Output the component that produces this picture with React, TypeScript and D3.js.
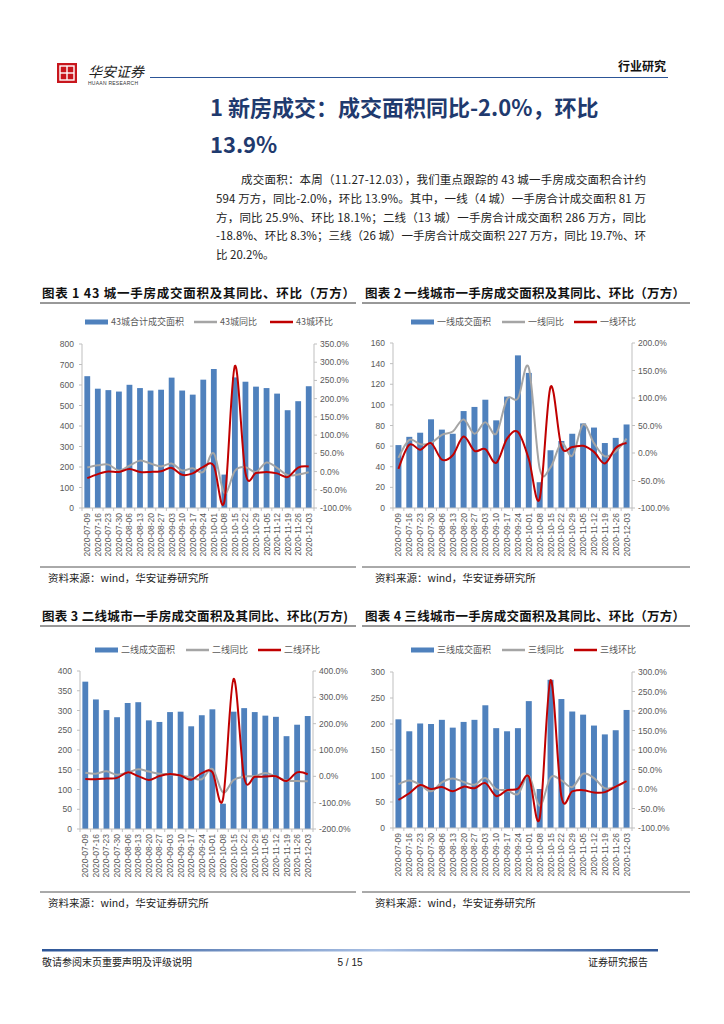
import * as d3 from 'd3';

// x categories (weekly)
const dates = [
  '2020-07-09', '2020-07-16', '2020-07-23', '2020-07-30', '2020-08-06', '2020-08-13',
  '2020-08-20', '2020-08-27', '2020-09-03', '2020-09-10', '2020-09-17', '2020-09-24',
  '2020-10-01', '2020-10-08', '2020-10-15', '2020-10-22', '2020-10-29', '2020-11-05',
  '2020-11-12', '2020-11-19', '2020-11-26', '2020-12-03',
];

// 43城
const area43 = [643, 582, 575, 568, 601, 585, 573, 577, 636, 573, 553, 626, 678, 163, 637, 616, 592, 585, 558, 477, 521, 594];
const yoy43 = [11, 17, 19, 3, 16, 30, 22, 14, 22, 3, 9, -1, 50, -59, 2, 12, -1, 25, 10, -10, -8, -2];
const mom43 = [-18, -7, 0, -1, 7, -1, -1, 1, 10, -9, -5, 13, 16, -82, 290, -4, -4, -1, -5, -15, 11, 14];
const left43 = [0, 100, 200, 300, 400, 500, 600, 700, 800];
const right43 = [-100, -50, 0, 50, 100, 150, 200, 250, 300, 350];

// 一线
const area1 = [61, 69, 73, 86, 76, 72, 94, 98, 105, 85, 108, 148, 131, 25, 56, 65, 72, 82, 78, 63, 68, 81];
const yoy1 = [-9, 24, 16, 18, 33, 39, 61, 35, 56, 35, 98, 99, 155, -28, -26, 18, -5, 52, 18, -6, 3, 26];
const mom1 = [-29, 15, 6, 18, -12, -4, 30, 4, 7, -18, 26, 38, -11, -83, 120, 12, 11, 13, 2, -19, 9, 18];
const left1 = [0, 20, 40, 60, 80, 100, 120, 140, 160];
const right1 = [-100, -50, 0, 50, 100, 150, 200];

// 二线
const area2 = [373, 328, 301, 283, 319, 321, 275, 271, 296, 297, 260, 288, 303, 64, 297, 306, 296, 287, 284, 235, 264, 286];
const yoy2 = [14, 10, 19, 6, 14, 27, 18, 10, 8, 3, -4, -11, 28, -61, -14, -1, 1, 13, -1, -16, -18, -19];
const mom2 = [-10, -11, -8, -6, 15, 1, -14, 1, 9, 3, -13, 12, 16, -87, 370, -5, -2, -1, 0, -18, 15, 8];
const left2 = [0, 50, 100, 150, 200, 250, 300, 350, 400];
const right2 = [-200, -100, 0, 100, 200, 300, 400];

// 三线
const area3 = [209, 186, 201, 200, 208, 193, 204, 208, 236, 192, 186, 192, 244, 75, 285, 248, 224, 218, 197, 180, 188, 227];
const yoy3 = [12, 22, 11, -6, 17, 27, 18, 11, 28, 0, -3, -13, 35, -43, 29, 22, 5, 39, 28, 2, 6, 20];
const mom3 = [-28, -11, 10, 0, 5, -6, 6, 2, 15, -18, -3, 1, 32, -75, 279, -19, -6, -3, -9, -8, 6, 20];
const left3 = [0, 50, 100, 150, 200, 250, 300];
const right3 = [-100, -50, 0, 50, 100, 150, 200, 250, 300];

const bodyLines = [
  '成交面积：本周（11.27-12.03），我们重点跟踪的 43 城一手房成交面积合计约',
  '594 万方，同比-2.0%，环比 13.9%。其中，一线（4 城）一手房合计成交面积 81 万',
  '方，同比 25.9%、环比 18.1%；二线（13 城）一手房合计成交面积 286 万方，同比',
  '-18.8%、环比 8.3%；三线（26 城）一手房合计成交面积 227 万方，同比 19.7%、环',
  '比 20.2%。',
];

const NUM = 'Arial, "Liberation Sans", sans-serif';
const CJK = '"Noto Sans CJK SC", sans-serif';
const BLUE = '#4f81bd';
const GREY = '#a5a5a5';
const RED = '#c00000';
const AXIS = '#bfbfbf';
const LABEL = '#595959';

interface PanelProps {
  title: string;
  titleX: number;
  titleY: number;
  titleW: number;
  ruleX0: number;
  ruleX1: number;
  left: number;
  right: number;
  top: number;
  bottom: number;
  bars: number[];
  yoy: number[];
  mom: number[];
  leftTicks: number[];
  rightTicks: number[];
  names: string[];
  legendY: number;
  legendX: number[];
  footY: number;
  sourceX: number;
}

function Panel(p: PanelProps) {
  const x = d3.scaleBand<string>().domain(dates).range([p.left, p.right]).paddingInner(0.45).paddingOuter(0.225);
  const step = x.step();
  const yL = d3.scaleLinear().domain(d3.extent(p.leftTicks) as [number, number]).range([p.bottom, p.top]);
  const yR = d3.scaleLinear().domain(d3.extent(p.rightTicks) as [number, number]).range([p.bottom, p.top]);
  const cx = (i: number) => (x(dates[i]) ?? 0) + x.bandwidth() / 2;
  const line = d3
    .line<number>()
    .x((_, i) => cx(i))
    .y((d) => yR(d))
    .curve(d3.curveCardinal.tension(0));

  return (
    <g>
      <text x={p.titleX} y={p.titleY} fontFamily={CJK} fontWeight={700} fontSize={12.5} fill="#111"
        textLength={p.titleW} lengthAdjust="spacing">{p.title}</text>
      <line x1={p.ruleX0} x2={p.ruleX1} y1={p.titleY + 5} y2={p.titleY + 5} stroke="#333" strokeWidth={1} />

      {/* legend */}
      <rect x={p.legendX[0]} y={p.legendY - 2.5} width={23} height={5} fill={BLUE} />
      <text x={p.legendX[0] + 26} y={p.legendY + 3} fontFamily={CJK} fontSize={9} fill={LABEL}>{p.names[0]}</text>
      <line x1={p.legendX[1]} x2={p.legendX[1] + 23} y1={p.legendY} y2={p.legendY} stroke={GREY} strokeWidth={2.5} />
      <text x={p.legendX[1] + 26} y={p.legendY + 3} fontFamily={CJK} fontSize={9} fill={LABEL}>{p.names[1]}</text>
      <line x1={p.legendX[2]} x2={p.legendX[2] + 23} y1={p.legendY} y2={p.legendY} stroke={RED} strokeWidth={2.5} />
      <text x={p.legendX[2] + 26} y={p.legendY + 3} fontFamily={CJK} fontSize={9} fill={LABEL}>{p.names[2]}</text>

      {/* bars */}
      {p.bars.map((v, i) => (
        <rect key={i} x={x(dates[i])} y={yL(v)} width={x.bandwidth()} height={p.bottom - yL(v)} fill={BLUE} />
      ))}

      {/* axes */}
      <line x1={p.left} x2={p.left} y1={p.top} y2={p.bottom} stroke={AXIS} />
      <line x1={p.right} x2={p.right} y1={p.top} y2={p.bottom} stroke={AXIS} />
      <line x1={p.left} x2={p.right} y1={p.bottom} y2={p.bottom} stroke={AXIS} />
      {p.leftTicks.map((t) => (
        <g key={'l' + t}>
          <line x1={p.left - 3} x2={p.left} y1={yL(t)} y2={yL(t)} stroke={AXIS} />
          <text x={p.left - 8} y={yL(t) + 3} textAnchor="end" fontFamily={NUM} fontSize={8.5} fill={LABEL}>{t}</text>
        </g>
      ))}
      {p.rightTicks.map((t) => (
        <g key={'r' + t}>
          <line x1={p.right} x2={p.right + 3} y1={yR(t)} y2={yR(t)} stroke={AXIS} />
          <text x={p.right + 6} y={yR(t) + 3} fontFamily={NUM} fontSize={8.5} fill={LABEL}>{t.toFixed(1) + '%'}</text>
        </g>
      ))}
      {dates.map((d, i) => (
        <g key={d}>
          <line x1={p.left + step * i} x2={p.left + step * i} y1={p.bottom} y2={p.bottom + 3} stroke={AXIS} />
          <text transform={`translate(${cx(i) + 3},${p.bottom + 5}) rotate(-90)`} textAnchor="end"
            fontFamily={NUM} fontSize={8.5} fill={LABEL}>{d}</text>
        </g>
      ))}
      <line x1={p.right} x2={p.right} y1={p.bottom} y2={p.bottom + 3} stroke={AXIS} />

      {/* lines */}
      <path d={line(p.yoy) ?? ''} fill="none" stroke={GREY} strokeWidth={2} />
      <path d={line(p.mom) ?? ''} fill="none" stroke={RED} strokeWidth={2} />

      <line x1={p.ruleX0} x2={p.ruleX1} y1={p.footY} y2={p.footY} stroke="#555" strokeWidth={1} />
      <text x={p.sourceX} y={p.footY + 15} fontFamily={CJK} fontSize={10.5} fill="#222">资料来源：wind，华安证券研究所</text>
    </g>
  );
}

export default function App() {
  return (
    <div style={{ position: 'absolute', left: 0, top: 0 }}>
      <svg width={724} height={1024} style={{ display: 'block', background: '#fff' }}>
        <defs>
          <linearGradient id="foot" x1="0" x2="1" y1="0" y2="0">
            <stop offset="0%" stopColor="#2c5597" />
            <stop offset="55%" stopColor="#a9c0e4" />
            <stop offset="100%" stopColor="#2c5597" />
          </linearGradient>
        </defs>

        {/* header */}
        <rect x={57} y={63} width={20} height={20} fill="#c8161d" />
        <rect x={60} y={66} width={14} height={14} fill="none" stroke="#fff" strokeWidth={1.4} />
        <line x1={67} x2={67} y1={66} y2={80} stroke="#fff" strokeWidth={1.4} />
        <line x1={60} x2={74} y1={73} y2={73} stroke="#fff" strokeWidth={1.4} />
        <text x={88} y={77} fontFamily={CJK} fontSize={14} fontStyle="italic" fill="#222">华安证券</text>
        <text x={88} y={85} fontFamily={NUM} fontSize={5} fill="#333" textLength={50}>HUAAN RESEARCH</text>
        <line x1={150} x2={668} y1={77.5} y2={77.5} stroke="#2c5597" strokeWidth={1} />
        <text x={666} y={71} textAnchor="end" fontFamily={CJK} fontWeight={700} fontSize={12} fill="#111">行业研究</text>

        {/* section title */}
        <text x={210} y={116} fontFamily={CJK} fontWeight={700} fontSize={22} fill="#1f3a6e">1 新房成交：成交面积同比-2.0%，环比</text>
        <text x={210} y={153} fontFamily={CJK} fontWeight={700} fontSize={22} fill="#1f3a6e">13.9%</text>

        {bodyLines.map((s, i) => (
          <text key={i} x={i === 0 ? 241 : 216} y={184 + i * 18.8} fontFamily={CJK} fontSize={11.5} fill="#222"
            textLength={i < 4 ? (i === 0 ? 405 : 430) : undefined} lengthAdjust="spacing">{s}</text>
        ))}

        <Panel title="图表 1 43 城一手房成交面积及其同比、环比（万方）" titleX={42} titleY={298} titleW={313}
          ruleX0={40} ruleX1={356} left={82} right={314} top={344} bottom={508}
          bars={area43} yoy={yoy43} mom={mom43} leftTicks={left43} rightTicks={right43}
          names={['43城合计成交面积', '43城同比', '43城环比']} legendY={322} legendX={[85, 194, 270]}
          footY={567} sourceX={48} />
        <Panel title="图表 2 一线城市一手房成交面积及其同比、环比（万方）" titleX={365} titleY={298} titleW={320}
          ruleX0={362} ruleX1={690} left={393} right={632} top={343} bottom={508}
          bars={area1} yoy={yoy1} mom={mom1} leftTicks={left1} rightTicks={right1}
          names={['一线成交面积', '一线同比', '一线环比']} legendY={322} legendX={[411, 502, 574]}
          footY={567} sourceX={375} />
        <Panel title="图表 3 二线城市一手房成交面积及其同比、环比(万方)" titleX={42} titleY={621} titleW={306}
          ruleX0={40} ruleX1={356} left={80} right={313} top={671} bottom={829}
          bars={area2} yoy={yoy2} mom={mom2} leftTicks={left2} rightTicks={right2}
          names={['二线成交面积', '二线同比', '二线环比']} legendY={650} legendX={[95, 186, 258]}
          footY={892} sourceX={48} />
        <Panel title="图表 4 三线城市一手房成交面积及其同比、环比（万方）" titleX={365} titleY={621} titleW={320}
          ruleX0={362} ruleX1={690} left={393} right={632} top={672} bottom={828}
          bars={area3} yoy={yoy3} mom={mom3} leftTicks={left3} rightTicks={right3}
          names={['三线成交面积', '三线同比', '三线环比']} legendY={650} legendX={[411, 502, 574]}
          footY={892} sourceX={375} />

        {/* page footer */}
        <rect x={42} y={949} width={616} height={2.5} fill="url(#foot)" />
        <text x={42} y={966} fontFamily={CJK} fontSize={10} fill="#222">敬请参阅末页重要声明及评级说明</text>
        <text x={350} y={966} textAnchor="middle" fontFamily={NUM} fontSize={10} fill="#222">5 / 15</text>
        <text x={648} y={966} textAnchor="end" fontFamily={CJK} fontSize={10} fill="#222">证券研究报告</text>
      </svg>
    </div>
  );
}
